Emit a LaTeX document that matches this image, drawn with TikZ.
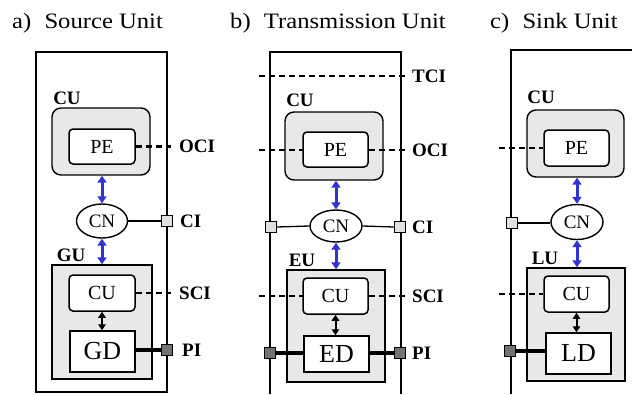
\documentclass[tikz,border=0pt]{standalone}
\usepackage{fontspec}
\setmainfont{Liberation Serif}
\newfontfamily\ttlfont{Liberation Serif}[FakeStretch=1.12]
\usetikzlibrary{arrows.meta,shapes.geometric}
\definecolor{arrblue}{RGB}{50,50,205}
\definecolor{boxgray}{RGB}{232,232,232}
\definecolor{sqlight}{RGB}{225,225,225}
\definecolor{sqdark}{RGB}{115,115,115}
\begin{document}
\begin{tikzpicture}[x=1pt,y=-1pt,
  unitline/.style={line width=1.5pt},
  cubox/.style={draw, fill=boxgray, rounded corners=9pt, line width=1.4pt, inner sep=0pt},
  grpbox/.style={draw, fill=boxgray, line width=1.4pt, inner sep=0pt},
  inbox/.style={draw, fill=white, rounded corners=4pt, line width=1.5pt, inner sep=0pt, font=\fontsize{20}{22}\selectfont},
  devbox/.style={draw, fill=white, line width=1.5pt, inner sep=0pt, font=\fontsize{26}{28}\selectfont},
  cnode/.style={draw, ellipse, fill=white, line width=1.4pt, inner sep=0pt, font=\fontsize{19}{21}\selectfont},
  lsq/.style={draw, fill=sqlight, minimum size=11pt, inner sep=0pt, line width=1pt},
  dsq/.style={draw, fill=sqdark, minimum size=11pt, inner sep=0pt, line width=1pt},
  lbl/.style={font=\bfseries\fontsize{19}{21}\selectfont, inner sep=0pt},
  ttl/.style={font=\ttlfont\fontsize{22}{24}\selectfont, inner sep=0pt, anchor=base west},
  dsh/.style={dash pattern=on 6pt off 4pt, line width=2.3pt},
  barr/.style={arrblue, line width=3pt, {Triangle[length=7pt,width=9pt]}-{Triangle[length=7pt,width=9pt]}},
  karr/.style={black, line width=2pt, {Triangle[length=6pt,width=7.5pt]}-{Triangle[length=6pt,width=7.5pt]}},
  thk/.style={line width=3.5pt},
  thn/.style={line width=1.3pt}]
\useasboundingbox (0,0) rectangle (632,394);
\clip (0,0) rectangle (632,394);

% ---------------- titles
\node[ttl] (ta) at (12,28) {a)\hspace{0.6em}Source Unit};
\node[ttl] (tb) at (230,28) {b)\hspace{0.6em}Transmission Unit};
\node[ttl] (tc) at (490,28) {c)\hspace{0.6em}Sink Unit};

% ================= panel a
\draw[unitline] (36,52) rectangle (167,392);
\node[cubox, minimum width=98pt, minimum height=67pt] (cua) at (101,141.5) {};
\node[lbl] (cula) at (67,98) {CU};
\node[inbox, minimum width=66pt, minimum height=35pt] (pea) at (102,146.5) {PE};
\coordinate (ocia) at (171,146.5);
\draw[dsh] (pea.east) -- (ocia);
\node[lbl, anchor=west] (ocilab) at (179,146.5) {OCI};
\node[cnode, minimum width=51pt, minimum height=34pt] (cna) at (102,221) {CN};
\node[lsq] (cia) at (166.5,221) {};
\draw[thn] (cna.east) -- (cia.west);
\node[lbl, anchor=west] (cilab) at (180,221) {CI};
\node[grpbox, minimum width=100pt, minimum height=114pt] (gu) at (102,322) {};
\node[lbl] (gulab) at (71,255) {GU};
\node[inbox, minimum width=66pt, minimum height=36pt] (cuia) at (102,293) {CU};
\coordinate (scia) at (171,293);
\draw[dsh] (cuia.east) -- (scia);
\node[lbl, anchor=west] (scilab) at (179,293) {SCI};
\node[devbox, minimum width=65pt, minimum height=41pt] (gd) at (102.5,351.5) {GD};
\node[dsq] (pia) at (166.5,350) {};
\draw[thk] (gd.east |- pia.west) -- (pia.west);
\node[lbl, anchor=west] (pilab) at (182,350) {PI};
\draw[barr] (cna.north |- cua.south) -- (cna.north);
\draw[barr] (cna.south) -- (cna.south |- gu.north);
\draw[karr] (cuia.south) -- (cuia.south |- gd.north);

% ================= panel b
\draw[unitline] (270,394) -- (270,52) -- (401,52) -- (401,394);
\coordinate (tcil) at (259,76);
\coordinate (tcir) at (407,76);
\draw[dsh] (tcil) -- (tcir);
\node[lbl, anchor=west] (tcilab) at (412,76) {TCI};
\node[cubox, minimum width=98pt, minimum height=68pt] (cub) at (334,146) {};
\node[lbl] (culb) at (300,100) {CU};
\coordinate (ocibl) at (259,150);
\coordinate (ocibr) at (407,150);
\draw[dsh] (ocibl) -- (ocibr);
\node[inbox, minimum width=65pt, minimum height=35pt] (peb) at (335.5,149.5) {PE};
\node[lbl, anchor=west] (ocilabb) at (412,150) {OCI};
\node[lsq] (cibl) at (271,227) {};
\node[lsq] (cibr) at (400,227) {};
\node[cnode, minimum width=52pt, minimum height=32pt] (cnb) at (336,226) {CN};
\draw[thn] (cibl.east) -- (cnb.west);
\draw[thn] (cnb.east) -- (cibr.west);
\node[lbl, anchor=west] (cilabb) at (412,227) {CI};
\node[grpbox, minimum width=98pt, minimum height=112pt] (eu) at (336,326) {};
\node[lbl] (eulab) at (302,260) {EU};
\coordinate (scibl) at (259,296);
\coordinate (scibr) at (407,296);
\draw[dsh] (scibl) -- (scibr);
\node[inbox, minimum width=65pt, minimum height=36pt] (cuib) at (335.5,296) {CU};
\node[lbl, anchor=west] (scilabb) at (412,296) {SCI};
\node[devbox, minimum width=65pt, minimum height=36pt] (ed) at (336.5,354) {ED};
\node[dsq] (pibl) at (270,353) {};
\node[dsq] (pibr) at (400,353) {};
\draw[thk] (pibl.east) -- (ed.west |- pibl.east);
\draw[thk] (ed.east |- pibr.west) -- (pibr.west);
\node[lbl, anchor=west] (pilabb) at (412,353) {PI};
\draw[barr] (cnb.north |- cub.south) -- (cnb.north);
\draw[barr] (cnb.south) -- (cnb.south |- eu.north);
\draw[karr] (cuib.south) -- (cuib.south |- ed.north);

% ================= panel c
\draw[unitline] (511,394) -- (511,50) -- (640,50);
\node[cubox, minimum width=97pt, minimum height=67pt] (cuc) at (575.5,143.5) {};
\node[lbl] (culc) at (541,97) {CU};
\coordinate (ocic) at (499,148);
\node[inbox, minimum width=65pt, minimum height=36pt] (pec) at (576.5,148) {PE};
\draw[dsh] (ocic) -- (pec.west);
\node[cnode, minimum width=52pt, minimum height=35pt] (cnc) at (577,222) {CN};
\node[lsq] (cic) at (512,223) {};
\draw[thn] (cic.east) -- (cnc.west |- cic.east);
\node[grpbox, minimum width=98pt, minimum height=113pt] (lu) at (576,324.5) {};
\node[lbl] (lulab) at (545,258) {LU};
\coordinate (scic) at (499,294);
\node[inbox, minimum width=65pt, minimum height=36pt] (cuic) at (576.5,294) {CU};
\draw[dsh] (scic) -- (cuic.west);
\node[devbox, minimum width=65pt, minimum height=41pt] (ld) at (578.5,353.5) {LD};
\node[dsq] (pic) at (510,351) {};
\draw[thk] (pic.east) -- (ld.west |- pic.east);
\draw[barr] (cnc.north |- cuc.south) -- (cnc.north);
\draw[barr] (cnc.south) -- (cnc.south |- lu.north);
\draw[karr] (cuic.south) -- (cuic.south |- ld.north);
\end{tikzpicture}
\end{document}
